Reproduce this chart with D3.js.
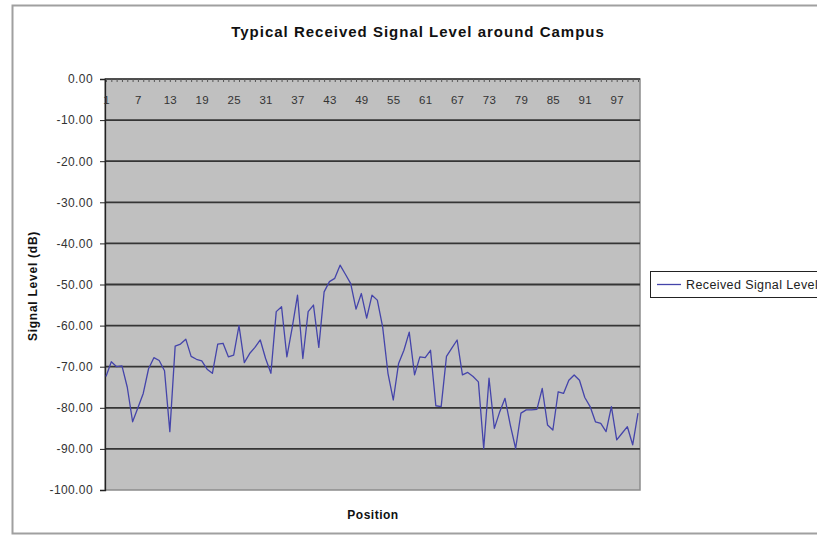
<!DOCTYPE html>
<html>
<head>
<meta charset="utf-8">
<script src="https://cdn.jsdelivr.net/npm/d3@7"></script>
<style>
  html, body { margin: 0; padding: 0; background: #fff; }
  svg { display: block; font-family: "Liberation Sans", Arial, sans-serif; }
</style>
</head>
<body>
<svg id="chart" width="817" height="537"></svg>
<script>
// ---- data ----
const positions = d3.range(1, 102);
const signalLevel = [
  -72.4, -68.8, -70.0, -69.8, -75.0, -83.4, -80.0, -76.5, -70.5, -67.8,
  -68.5, -71.0, -85.8, -65.0, -64.5, -63.3, -67.5, -68.2, -68.6, -70.6,
  -71.6, -64.5, -64.3, -67.6, -67.2, -60.0, -69.0, -66.8, -65.3, -63.5,
  -68.0, -71.6, -56.6, -55.4, -67.6, -60.5, -52.6, -68.0, -56.6, -55.0,
  -65.3, -51.8, -49.3, -48.5, -45.3, -47.5, -49.8, -56.0, -52.2, -58.2,
  -52.6, -53.8, -60.3, -71.6, -78.1, -69.2, -66.0, -61.6, -72.0, -67.6,
  -67.8, -66.0, -79.5, -79.7, -67.5, -65.5, -63.5, -72.0, -71.4, -72.4,
  -73.7, -89.9, -72.8, -85.0, -81.0, -77.7, -84.2, -89.9, -81.3, -80.5,
  -80.5, -80.4, -75.3, -84.2, -85.4, -76.1, -76.5, -73.3, -72.0, -73.3,
  -77.5, -79.7, -83.4, -83.8, -85.8, -79.7, -87.8, -86.2, -84.6, -89.0,
  -81.3
];
const yTicks = [0, -10, -20, -30, -40, -50, -60, -70, -80, -90, -100];
const xTickLabels = [1, 7, 13, 19, 25, 31, 37, 43, 49, 55, 61, 67, 73, 79, 85, 91, 97];
const title = "Typical Received Signal Level around Campus";
const yTitle = "Signal Level (dB)";
const xTitle = "Position";
const seriesName = "Received Signal Level";

// ---- layout ----
const svg = d3.select("#chart");
const plot = { left: 105, right: 640, top: 79, bottom: 490 };

// chart area border (partially outside the picture on the right)
svg.append("path")
  .attr("d", "M830,5.5 H12.5 V533.5 H830")
  .attr("fill", "none").attr("stroke", "#a0a0a0").attr("stroke-width", 2);

// title
svg.append("text")
  .attr("x", 418).attr("y", 37)
  .attr("text-anchor", "middle")
  .attr("font-size", 15).attr("font-weight", "bold").attr("fill", "#111")
  .attr("letter-spacing", 1)
  .text(title);

const x = d3.scalePoint().domain(positions).range([106, 638]);
const y = d3.scaleLinear().domain([-100, 0]).range([plot.bottom, plot.top]);

// plot area
svg.append("rect")
  .attr("x", plot.left).attr("y", plot.top)
  .attr("width", plot.right - plot.left).attr("height", plot.bottom - plot.top)
  .attr("fill", "#c0c0c0").attr("stroke", "#8c8c8c").attr("stroke-width", 1.5);

// gridlines
svg.append("g").selectAll("line")
  .data(yTicks.filter(v => v !== 0 && v !== -100))
  .join("line")
  .attr("x1", plot.left).attr("x2", plot.right)
  .attr("y1", d => y(d)).attr("y2", d => y(d))
  .attr("stroke", "#353535").attr("stroke-width", 1.8);

// y axis
const yAxis = d3.axisLeft(y)
  .tickValues(yTicks)
  .tickFormat(d => d.toFixed(2))
  .tickSize(5).tickPadding(7);
const gy = svg.append("g").attr("transform", `translate(${plot.left},0)`).call(yAxis);
gy.select(".domain").attr("stroke", "#222").attr("stroke-width", 1.3);
gy.selectAll(".tick line").attr("stroke", "#222");
gy.selectAll(".tick text").attr("font-size", 12).attr("fill", "#333")
  .attr("letter-spacing", 0.4)
  .attr("font-family", "Liberation Sans, Arial, sans-serif");

// category axis at top (value 0)
const xAxis = d3.axisBottom(x)
  .tickValues(positions)
  .tickFormat(d => xTickLabels.includes(d) ? d : "")
  .tickSizeOuter(0).tickSizeInner(3).tickPadding(14);
const gx = svg.append("g").attr("transform", `translate(0,${y(0)})`).call(xAxis);
gx.select(".domain").attr("stroke", "#333").attr("stroke-width", 1.3)
  .attr("d", `M${plot.left},0H${plot.right}`);
gx.selectAll(".tick line").attr("stroke", "#555");
gx.selectAll(".tick text").attr("font-size", 11.5).attr("fill", "#333")
  .attr("letter-spacing", 0.3)
  .attr("font-family", "Liberation Sans, Arial, sans-serif");

// series line
const line = d3.line()
  .x((d, i) => x(positions[i]))
  .y(d => y(d));
svg.append("path")
  .datum(signalLevel)
  .attr("d", line)
  .attr("fill", "none")
  .attr("stroke", "#4444aa")
  .attr("stroke-width", 1.3)
  .attr("stroke-linejoin", "round");

// axis titles
svg.append("text")
  .attr("transform", "translate(37,286) rotate(-90)")
  .attr("text-anchor", "middle")
  .attr("font-size", 12).attr("font-weight", "bold").attr("fill", "#111")
  .attr("letter-spacing", 0.75)
  .text(yTitle);
svg.append("text")
  .attr("x", 373).attr("y", 519)
  .attr("text-anchor", "middle")
  .attr("font-size", 12).attr("font-weight", "bold").attr("fill", "#111")
  .attr("letter-spacing", 0.5)
  .text(xTitle);

// legend
const lg = svg.append("g");
lg.append("rect")
  .attr("x", 650.5).attr("y", 271.5).attr("width", 180).attr("height", 26)
  .attr("fill", "#fff").attr("stroke", "#222").attr("stroke-width", 1);
lg.append("line")
  .attr("x1", 657).attr("x2", 681).attr("y1", 284.5).attr("y2", 284.5)
  .attr("stroke", "#4444aa").attr("stroke-width", 1.3);
lg.append("text")
  .attr("x", 686).attr("y", 289)
  .attr("font-size", 12.5).attr("fill", "#222")
  .attr("letter-spacing", 0.4)
  .text(seriesName);
</script>
</body>
</html>
